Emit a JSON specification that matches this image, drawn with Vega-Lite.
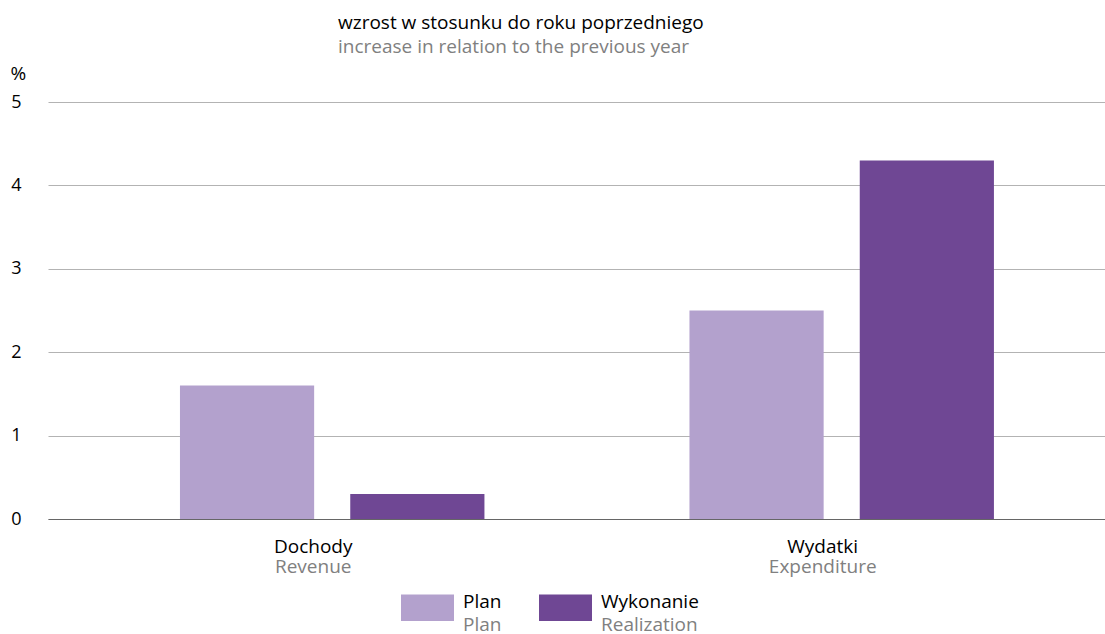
{
  "$schema": "https://vega.github.io/schema/vega-lite/v6.json",
  "width": 1057,
  "height": 417,
  "autosize": {"type": "none"},
  "padding": {"left": 48, "top": 102, "right": 0, "bottom": 115},
  "background": "white",
  "config": {
    "font": "Open Sans",
    "view": {"stroke": null},
    "legend": {"padding": 0}
  },
  "title": {
    "text": "wzrost w stosunku do roku poprzedniego",
    "subtitle": "increase in relation to the previous year",
    "anchor": "start",
    "frame": "group",
    "dx": 290,
    "offset": 7,
    "fontSize": 19,
    "fontWeight": "normal",
    "color": "#000000",
    "subtitleFontSize": 19,
    "subtitleColor": "#808080",
    "subtitlePadding": 5
  },
  "data": {
    "values": [
      {"group": "Dochody", "series": "Plan", "seriesEn": "Plan", "value": 1.6},
      {"group": "Dochody", "series": "Wykonanie", "seriesEn": "Realization", "value": 0.3},
      {"group": "Wydatki", "series": "Plan", "seriesEn": "Plan", "value": 2.5},
      {"group": "Wydatki", "series": "Wykonanie", "seriesEn": "Realization", "value": 4.3}
    ]
  },
  "layer": [
    {
      "mark": {"type": "bar"},
      "encoding": {
        "x": {
          "field": "group",
          "type": "nominal",
          "scale": {"domain": ["Dochody", "Wydatki"], "paddingInner": 0.4024, "paddingOuter": 0.2385, "align": 0.543},
          "axis": {
            "orient": "bottom",
            "title": null,
            "labelAngle": 0,
            "labelFontSize": 19,
            "labelColor": "#000000",
            "labelBaseline": "alphabetic",
            "labelPadding": 33,
            "labelOffset": -19,
            "ticks": false,
            "grid": false,
            "domainColor": "#666666",
            "zindex": 1
          }
        },
        "xOffset": {"field": "series", "type": "nominal", "scale": {"paddingInner": 0.212, "paddingOuter": 0}},
        "y": {
          "field": "value",
          "type": "quantitative",
          "scale": {"domain": [0, 5], "nice": false},
          "axis": {
            "title": "%",
            "titleAngle": 0,
            "titleX": -38,
            "titleY": -29,
            "titleAlign": "left",
            "titleBaseline": "middle",
            "titleFontSize": 19,
            "titleFontWeight": "normal",
            "titleColor": "#000000",
            "values": [0, 1, 2, 3, 4, 5],
            "grid": true,
            "gridColor": "#b3b3b3",
            "domain": false,
            "ticks": false,
            "labelPadding": 27,
            "labelFontSize": 18,
            "labelColor": "#000000"
          }
        },
        "color": {
          "field": "series",
          "type": "nominal",
          "scale": {"domain": ["Plan", "Wykonanie"], "range": ["#b3a1cd", "#6f4794"]},
          "legend": {
            "title": null,
            "orient": "none",
            "legendX": 353,
            "legendY": 479,
            "direction": "horizontal",
            "symbolType": "M-1,-0.5H1V0.5H-1Z",
            "symbolSize": 2809,
            "symbolStrokeWidth": 0,
            "labelFontSize": 19,
            "labelColor": "#000000",
            "labelBaseline": "alphabetic",
            "labelOffset": 9,
            "columnPadding": 37
          }
        }
      }
    },
    {
      "mark": {"type": "bar", "opacity": 0, "strokeWidth": 0},
      "encoding": {
        "x": {
          "field": "group",
          "type": "nominal",
          "axis": {
            "orient": "bottom",
            "title": null,
            "labelAngle": 0,
            "labelExpr": "datum.value == 'Dochody' ? 'Revenue' : 'Expenditure'",
            "labelFontSize": 19,
            "labelColor": "#808080",
            "labelBaseline": "alphabetic",
            "labelPadding": 53,
            "labelOffset": -19,
            "ticks": false,
            "grid": false,
            "domain": false
          }
        },
        "xOffset": {"field": "series", "type": "nominal"},
        "y": {
          "field": "value",
          "type": "quantitative",
          "axis": {
            "title": "%",
            "titleAngle": 0,
            "titleX": -38,
            "titleY": -29,
            "titleAlign": "left",
            "titleBaseline": "middle",
            "titleFontSize": 19,
            "titleFontWeight": "normal",
            "titleColor": "#000000",
            "values": [0, 1, 2, 3, 4, 5],
            "grid": true,
            "gridColor": "#b3b3b3",
            "domain": false,
            "ticks": false,
            "labelPadding": 27,
            "labelFontSize": 18,
            "labelColor": "#000000"
          }
        },
        "stroke": {
          "field": "seriesEn",
          "type": "nominal",
          "scale": {"domain": ["Plan", "Realization"], "range": ["#b3a1cd", "#6f4794"]},
          "legend": {
            "title": null,
            "orient": "none",
            "legendX": 353,
            "legendY": 502,
            "direction": "horizontal",
            "symbolType": "M-1,-0.5H1V0.5H-1Z",
            "symbolSize": 2809,
            "symbolOpacity": 0,
            "symbolStrokeWidth": 0,
            "labelFontSize": 19,
            "labelColor": "#808080",
            "labelBaseline": "alphabetic",
            "labelOffset": 9,
            "columnPadding": 37
          }
        }
      }
    }
  ],
  "resolve": {"axis": {"x": "independent"}}
}
